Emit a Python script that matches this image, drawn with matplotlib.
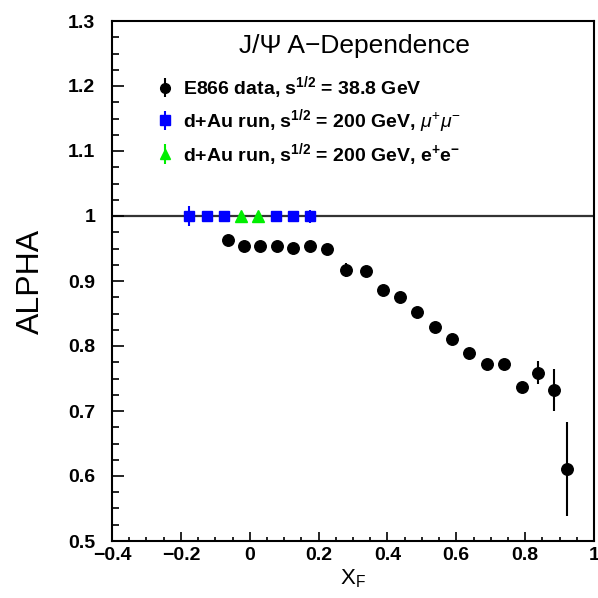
import matplotlib
matplotlib.use("Agg")
import matplotlib.pyplot as plt
from matplotlib.ticker import MultipleLocator, FixedLocator, FixedFormatter

plt.rcParams['font.family'] = ['Liberation Sans', 'DejaVu Sans']
plt.rcParams['mathtext.fontset'] = 'custom'
plt.rcParams['mathtext.rm'] = 'Liberation Sans'
plt.rcParams['mathtext.it'] = 'Liberation Sans:italic'
plt.rcParams['mathtext.bf'] = 'Liberation Sans:bold'

# ---- data ----
e866_x = [-0.063, -0.017, 0.031, 0.078, 0.126, 0.174, 0.225, 0.281, 0.337, 0.388,
          0.436, 0.486, 0.538, 0.589, 0.638, 0.690, 0.738, 0.790, 0.836, 0.883, 0.922]
e866_y = [0.963, 0.954, 0.954, 0.954, 0.951, 0.954, 0.950, 0.917, 0.916, 0.886,
          0.876, 0.853, 0.830, 0.811, 0.789, 0.772, 0.772, 0.737, 0.759, 0.732, 0.611]
e866_err = [0.004, 0.004, 0.004, 0.004, 0.004, 0.004, 0.004, 0.011, 0.005, 0.005,
            0.005, 0.005, 0.005, 0.005, 0.005, 0.005, 0.005, 0.008, 0.018, 0.032, 0.072]

mumu_x = [-0.175, -0.125, -0.075, 0.075, 0.125, 0.175]
mumu_y = [1.0, 1.0, 1.0, 1.0, 1.0, 1.0]
mumu_err = [0.015, 0.0, 0.0, 0.0, 0.0, 0.010]

ee_x = [-0.025, 0.025]
ee_y = [1.0, 1.0]
ee_err = [0.0, 0.0]

xticks = [-0.4, -0.2, 0.0, 0.2, 0.4, 0.6, 0.8, 1.0]
xtick_labels = ["\u22120.4", "\u22120.2", "0", "0.2", "0.4", "0.6", "0.8", "1"]
yticks = [0.5, 0.6, 0.7, 0.8, 0.9, 1.0, 1.1, 1.2, 1.3]
ytick_labels = ["0.5", "0.6", "0.7", "0.8", "0.9", "1", "1.1", "1.2", "1.3"]

labels = [r"E866 data, $\mathbf{s^{1/2}}$ = 38.8 GeV",
          r"d+Au run, $\mathbf{s^{1/2}}$ = 200 GeV, $\mu^{+}\mu^{-}$",
          r"d+Au run, $\mathbf{s^{1/2}}$ = 200 GeV, $\mathbf{e^{+}e^{-}}$"]

# ---- figure ----
W = 598
fig = plt.figure(figsize=(5.98, 5.98), dpi=100)
ax = fig.add_axes([112 / W, 1 - 541 / W, (594 - 112) / W, (541 - 21) / W])
ax.set_xlim(-0.4, 1.0)
ax.set_ylim(0.5, 1.3)

ax.axhline(1.0, color='#333333', lw=1.6, zorder=1)

h1 = ax.errorbar(e866_x, e866_y, yerr=e866_err, fmt='o', color='black', ms=8.3,
                 elinewidth=1.5, capsize=0, zorder=3)
h2 = ax.errorbar(mumu_x, mumu_y, yerr=mumu_err, fmt='s', color='#0000ff', ms=7,
                 elinewidth=1.5, capsize=0, zorder=3)
h3 = ax.errorbar(ee_x, ee_y, yerr=ee_err, fmt='^', color='#00ee00', ms=8,
                 elinewidth=1.5, capsize=0, zorder=3)

ax.text(0.502, 0.951, "J/\u03a8 A\u2212Dependence", transform=ax.transAxes,
        ha='center', va='center', fontsize=19)

# legend handles with vertical bars
lh1 = ax.errorbar([], [], yerr=[], fmt='o', color='black', ms=7, elinewidth=1.5)
lh2 = ax.errorbar([], [], yerr=[], fmt='s', color='#0000ff', ms=7, elinewidth=1.5)
lh3 = ax.errorbar([], [], yerr=[], fmt='^', color='#00ee00', ms=7, elinewidth=1.5)
leg = ax.legend([lh1, lh2, lh3], labels, loc='upper left',
                bbox_to_anchor=(0.094, 0.897), frameon=False,
                prop={'size': 14, 'weight': 'bold'},
                handlelength=0.8, handletextpad=0.53, labelspacing=0.3,
                borderpad=0, borderaxespad=0)

ax.xaxis.set_major_locator(FixedLocator(xticks))
ax.xaxis.set_major_formatter(FixedFormatter(xtick_labels))
ax.yaxis.set_major_locator(FixedLocator(yticks))
ax.yaxis.set_major_formatter(FixedFormatter(ytick_labels))
ax.xaxis.set_minor_locator(MultipleLocator(0.05))
ax.yaxis.set_minor_locator(MultipleLocator(0.025))

ax.tick_params(axis='x', which='major', direction='in', length=6.5, width=1.2,
               labelsize=14, pad=4, top=False)
ax.tick_params(axis='x', which='minor', direction='in', length=3.2, width=1.2, top=False)
ax.tick_params(axis='y', which='major', direction='in', length=8.6, width=1.2,
               labelsize=14, pad=12, right=False)
ax.tick_params(axis='y', which='minor', direction='in', length=4.8, width=1.2, right=False)
for lab in ax.get_xticklabels() + ax.get_yticklabels():
    lab.set_fontweight('bold')

for s in ax.spines.values():
    s.set_linewidth(1.5)

ax.set_ylabel("ALPHA", fontsize=23, labelpad=16)
ax.set_xlabel(r"X$_\mathregular{F}$", fontsize=16, labelpad=3)

fig.savefig("out.png", dpi=100)
